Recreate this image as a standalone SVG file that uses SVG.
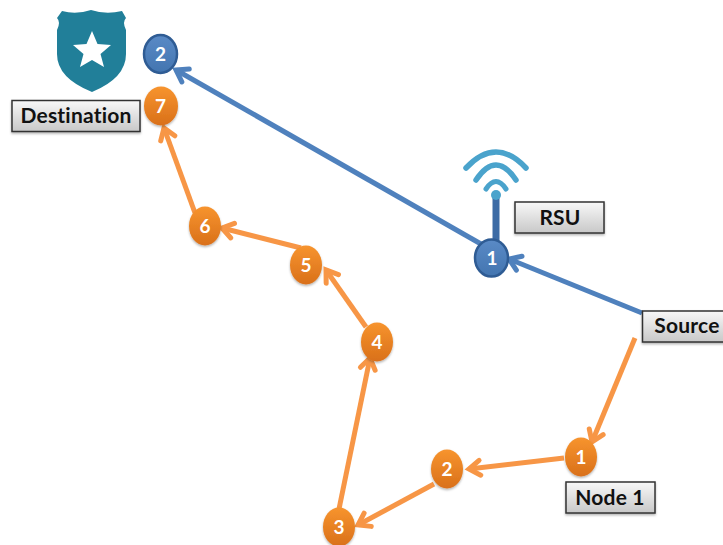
<svg xmlns="http://www.w3.org/2000/svg" width="723" height="545" viewBox="0 0 723 545">
<defs>
<linearGradient id="og" x1="0" y1="0" x2="0" y2="1"><stop offset="0" stop-color="#f7942e"/><stop offset="1" stop-color="#d9701a"/></linearGradient>
<linearGradient id="bg" x1="0" y1="0" x2="0" y2="1"><stop offset="0" stop-color="#5a8ac6"/><stop offset="1" stop-color="#4375b0"/></linearGradient>
<linearGradient id="box" x1="0" y1="0" x2="0" y2="1"><stop offset="0" stop-color="#f8f8f8"/><stop offset="1" stop-color="#c8c8c8"/></linearGradient>
<filter id="sh" x="-20%" y="-20%" width="140%" height="140%"><feDropShadow dx="0" dy="1.500" stdDeviation="1.200" flood-color="#000" flood-opacity="0.300"/></filter>
<marker id="ao" markerUnits="userSpaceOnUse" markerWidth="24" markerHeight="24" refX="19" refY="12" orient="auto"><path d="M8 4.500L19 12L8 19.500" fill="none" stroke="#f79646" stroke-width="5" stroke-linecap="round"/></marker>
<marker id="ab" markerUnits="userSpaceOnUse" markerWidth="24" markerHeight="24" refX="19" refY="12" orient="auto"><path d="M8 4.500L19 12L8 19.500" fill="none" stroke="#4f81bd" stroke-width="5" stroke-linecap="round"/></marker>
</defs>
<style>
.o{fill:none;stroke:#f79646;stroke-width:5;marker-end:url(#ao)}
.b{fill:none;stroke:#4f81bd;stroke-width:5;marker-end:url(#ab)}
.no{fill:url(#og);filter:url(#sh)}
.nb{fill:url(#bg);stroke:#2f5c94;stroke-width:2.500}
.nt{font:700 19px Lato,"Liberation Sans",sans-serif;fill:#fff;text-anchor:middle}
.bx{fill:url(#box);stroke:#333;stroke-width:1.500;filter:url(#sh)}
.bt{font:700 21px Lato,"Liberation Sans",sans-serif;letter-spacing:.2px;fill:#111;text-anchor:middle}
.wf{fill:none;stroke:#4aa3cc;stroke-linecap:round}
</style>
<g id="connectors">
<path class="b" d="M481 244L176 70"/>
<path class="b" d="M642 313L509 259"/>
<path class="o" d="M635 338L592 442"/>
<path class="o" d="M564 458L469 469"/>
<path class="o" d="M434 484L358 525"/>
<path class="o" d="M339 509L370 358"/>
<path class="o" d="M366 327L326 270"/>
<path class="o" d="M301 248L222 228"/>
<path class="o" d="M195 213L164 128"/>
</g>
<g id="shield"><path d="M62 11Q76 15 91 10Q106 15 122 11L126 18Q122 22 126 30V54Q126 78 92 92Q57 78 57 54V30Q61 22 57 18Z" fill="#217f99"/><polygon points="92,31 97.500,44 111,45 100.500,54 104,67 92,60 80,67 83.500,54 73,45 86.500,44" fill="#fff"/></g>
<g id="rsu-antenna">
<path d="M496 196V250" stroke="#3d6ba5" stroke-width="7" fill="none"/>
<path class="wf" stroke-width="5.500" d="M466 168Q496 136 526 168"/>
<path class="wf" stroke-width="5.500" d="M476 180Q496 150 516 180"/>
<path class="wf" stroke-width="5" d="M486 189Q496 174 506 189"/>
<circle cx="496" cy="195" r="5" fill="#4aa3cc"/>
</g>
<g id="blue-2"><ellipse class="nb" cx="160.500" cy="54" rx="16.500" ry="19"/><text class="nt" x="160.500" y="61">2</text></g>
<g id="blue-1"><ellipse class="nb" cx="491.500" cy="258" rx="16.500" ry="18.500"/><text class="nt" x="492" y="265">1</text></g>
<g id="orange-7"><ellipse class="no" cx="161" cy="106" rx="17" ry="19.500"/><text class="nt" x="160.500" y="113">7</text></g>
<g id="orange-6"><ellipse class="no" cx="205" cy="226" rx="16" ry="19.500"/><text class="nt" x="205" y="233">6</text></g>
<g id="orange-5"><ellipse class="no" cx="306" cy="265" rx="16" ry="19.500"/><text class="nt" x="306" y="272">5</text></g>
<g id="orange-4"><ellipse class="no" cx="377" cy="342" rx="16" ry="19.500"/><text class="nt" x="377" y="349">4</text></g>
<g id="orange-3"><ellipse class="no" cx="339" cy="527" rx="16" ry="19.500"/><text class="nt" x="339" y="534">3</text></g>
<g id="orange-2"><ellipse class="no" cx="447" cy="469" rx="16" ry="19.500"/><text class="nt" x="447" y="476">2</text></g>
<g id="orange-1"><ellipse class="no" cx="581" cy="457" rx="16" ry="19.500"/><text class="nt" x="581" y="464">1</text></g>
<g id="destination"><rect class="bx" x="12" y="100.500" width="128" height="31"/><text class="bt" x="76" y="122.500">Destination</text></g>
<g id="rsu"><rect class="bx" x="515" y="202" width="89" height="31"/><text class="bt" x="560" y="225">RSU</text></g>
<g id="source"><rect class="bx" x="642.500" y="311" width="82" height="31"/><text class="bt" x="687" y="332.500">Source</text></g>
<g id="node-1"><rect class="bx" x="566" y="482" width="89" height="31"/><text class="bt" x="610" y="505">Node 1</text></g>
</svg>
